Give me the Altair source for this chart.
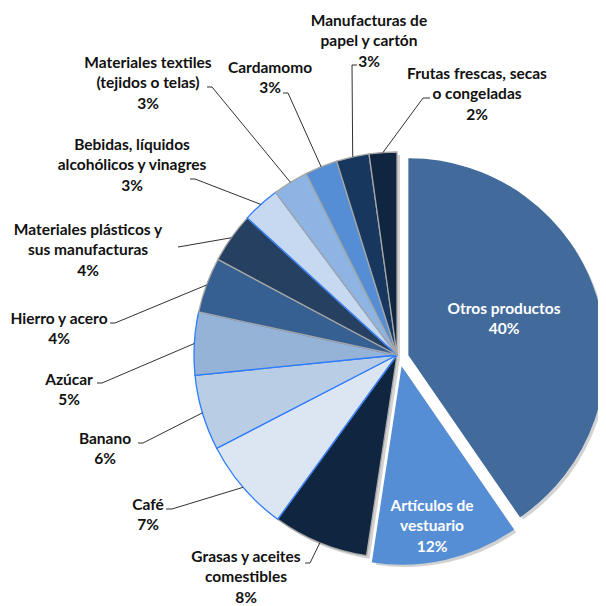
import altair as alt
import pandas as pd

# ---------------- data ----------------
categories = [
    "Otros productos",
    "Artículos de vestuario",
    "Grasas y aceites comestibles",
    "Café",
    "Banano",
    "Azúcar",
    "Hierro y acero",
    "Materiales plásticos y sus manufacturas",
    "Bebidas, líquidos alcohólicos y vinagres",
    "Materiales textiles (tejidos o telas)",
    "Cardamomo",
    "Manufacturas de papel y cartón",
    "Frutas frescas, secas o congeladas",
]
shares = [40.4, 12.0, 7.6, 7.4, 6.0, 5.0, 4.4, 4.0, 3.0, 2.8, 2.6, 2.6, 2.2]
label_text = [
    "Otros productos",
    "Artículos de\nvestuario",
    "Grasas y aceites\ncomestibles",
    "Café",
    "Banano",
    "Azúcar",
    "Hierro y acero",
    "Materiales plásticos y\nsus manufacturas",
    "Bebidas, líquidos\nalcohólicos y vinagres",
    "Materiales textiles\n(tejidos o telas)",
    "Cardamomo",
    "Manufacturas de\npapel y cartón",
    "Frutas frescas, secas\no congeladas",
]

# ---------------- style / layout ----------------
fill_colors = ["#426B9C", "#558ED5", "#10253F", "#DCE6F2", "#B9CDE5", "#95B3D7",
               "#376092", "#254061", "#C6D9F1", "#8EB4E3", "#558ED5", "#17375E", "#10253F"]
stroke_colors = ["#426B9C", "#558ED5", "#A6A6A6", "#2F7CFF", "#2F7CFF", "#2F7CFF",
                 "#A6A6A6", "#A6A6A6", "#2F7CFF", "#A6A6A6", "#A6A6A6", "#A6A6A6", "#A6A6A6"]

CX, CY = 389, 347          # centre of the main pie, chart pixels
R_MAIN, R_OUT = 203, 196   # radius of joined / exploded slices
EXPLODED = ["Otros productos", "Artículos de vestuario"]
EXPLODE_OFFSET = {"Otros productos": (12, 0), "Artículos de vestuario": (5, 13)}
LINE_H = 20.5

# label layout, pixel offsets from the pie centre (Excel's manual label placement)
text_offset = [(107, -36), (35, 171), (-151, 222), (-249, 160), (-292, 94), (-328, 35),
               (-338, -26), (-309, -105), (-265, -190), (-249, -272), (-127, -277),
               (-28, -314), (80, -261)]
knee_offset = [None, None, (-87, 208), (-225, 154), (-254, 88), (-295, 28), (-282, -32),
               (-213, -109), (-202, -176), (-185, -268), (-109, -262), (-45, -290), (26, -257)]
tick_offset = [None, None, (-92, 208), (-231, 154), (-259, 88), (-300, 28), (-287, -32),
               (-219, -108), (-207, -176), (-190, -268), (-114, -262), (-40, -290), (33, -257)]

layout_records = []
for c, t, k, s in zip(categories, text_offset, knee_offset, tick_offset):
    rec = {"category": c, "tx": t[0], "ty": t[1]}
    if k is not None:
        rec.update({"kx": k[0], "ky": k[1], "sx": s[0], "sy": s[1]})
    layout_records.append(rec)

df = pd.DataFrame({
    "order": list(range(len(categories))),
    "category": categories,
    "share": shares,
    "label": label_text,
})

base = alt.Chart(df).transform_window(
    cum="sum(share)", sort=[alt.SortField("order")], frame=[None, 0]
).transform_calculate(
    start="datum.cum - datum.share",
    end="datum.cum",
    mid="(datum.cum - datum.share / 2) / 100 * 2 * PI",
    txt="datum.label + '\\n' + format(datum.share, '.0f') + '%'",
).transform_lookup(
    lookup="category",
    from_=alt.LookupData(alt.InlineData(values=layout_records), "category",
                         ["tx", "ty", "kx", "ky", "sx", "sy"]),
)

theta = alt.Theta("start:Q", scale=alt.Scale(domain=[0, 100]))
theta2 = alt.Theta2("end:Q")
fill = alt.Color("category:N", scale=alt.Scale(domain=categories, range=fill_colors), legend=None)
stroke = alt.Stroke("category:N", scale=alt.Scale(domain=categories, range=stroke_colors), legend=None)


def slice_layers(sub, cx, cy, r):
    shadow = sub.mark_arc(radius=r, fill="#7F7F7F", opacity=0.35).encode(
        theta=theta, theta2=theta2, x=alt.value(cx + 3), y=alt.value(cy + 3))
    body = sub.mark_arc(radius=r, strokeWidth=1.3).encode(
        theta=theta, theta2=theta2, color=fill, stroke=stroke,
        x=alt.value(cx), y=alt.value(cy))
    return [shadow, body]


layers = []
main = base.transform_filter(~alt.FieldOneOfPredicate(field="category", oneOf=EXPLODED))
layers += slice_layers(main, CX, CY, R_MAIN)
for name in EXPLODED:
    dx, dy = EXPLODE_OFFSET[name]
    sub = base.transform_filter(alt.FieldEqualPredicate(field="category", equal=name))
    layers += slice_layers(sub, CX + dx, CY + dy, R_OUT)

leaders = base.transform_filter("isValid(datum.kx)").transform_calculate(
    ex=f"{CX} + {R_MAIN} * sin(datum.mid)",
    ey=f"{CY} - {R_MAIN} * cos(datum.mid)",
    kxp=f"{CX} + datum.kx",
    kyp=f"{CY} + datum.ky",
    sxp=f"{CX} + datum.sx",
    syp=f"{CY} + datum.sy",
)
layers.append(leaders.mark_rule(color="#1A1A1A", strokeWidth=0.9).encode(
    x=alt.X("sxp:Q", scale=None, axis=None), y=alt.Y("syp:Q", scale=None, axis=None),
    x2=alt.X2("kxp:Q"), y2=alt.Y2("kyp:Q")))
layers.append(leaders.mark_rule(color="#1A1A1A", strokeWidth=0.9).encode(
    x=alt.X("kxp:Q", scale=None, axis=None), y=alt.Y("kyp:Q", scale=None, axis=None),
    x2=alt.X2("ex:Q"), y2=alt.Y2("ey:Q")))

# first line position so that the whole block is centred on the layout point
texts = base.transform_calculate(
    txp=f"{CX} + datum.tx",
    typ=f"{CY} + datum.ty - (length(split(datum.txt, '\\n')) - 1) * {LINE_H} / 2",
)
outer = texts.transform_filter(~alt.FieldOneOfPredicate(field="category", oneOf=EXPLODED))
inner = texts.transform_filter(alt.FieldOneOfPredicate(field="category", oneOf=EXPLODED))
text_style = dict(lineBreak="\n", font="Lato", fontWeight="bold", fontSize=15.5,
                  lineHeight=LINE_H, align="center", baseline="middle")
layers.append(outer.mark_text(color="#111111", **text_style).encode(
    x=alt.X("txp:Q", scale=None, axis=None), y=alt.Y("typ:Q", scale=None, axis=None),
    text="txt:N"))
layers.append(inner.mark_text(color="#FFFFFF", **text_style).encode(
    x=alt.X("txp:Q", scale=None, axis=None), y=alt.Y("typ:Q", scale=None, axis=None),
    text="txt:N"))

chart = alt.layer(*layers).properties(
    width=590, height=596, padding=0, autosize=alt.AutoSizeParams(type="none")
).configure_view(strokeWidth=0)

chart.save("out.html", embed_options={"renderer": "svg", "actions": False})
